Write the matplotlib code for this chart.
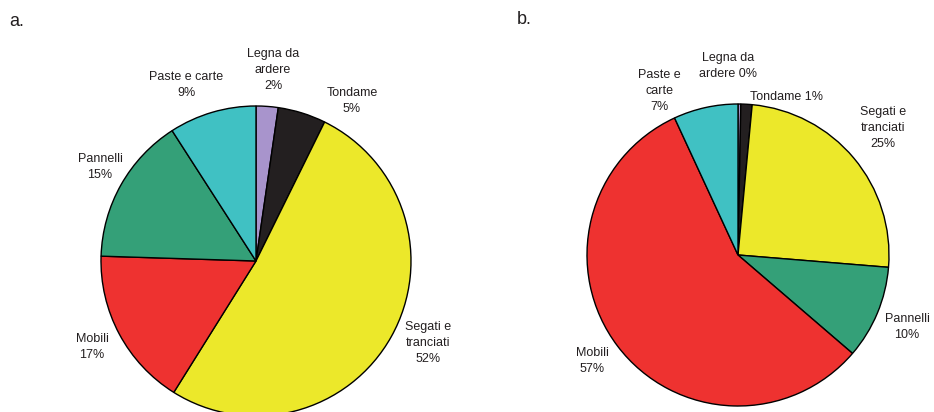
import matplotlib.pyplot as plt

plt.rcParams['font.family'] = ['Liberation Sans', 'DejaVu Sans']

# Categorie e quote percentuali
names_a = ["Legna da\nardere", "Tondame", "Segati e\ntranciati", "Mobili", "Pannelli", "Paste e carte"]
values_a = [2.3, 5.0, 51.6, 16.6, 15.4, 9.1]

names_b = ["Legna da\nardere ", "Tondame ", "Segati e\ntranciati", "Pannelli", "Mobili", "Paste e\ncarte"]
values_b = [0.3, 1.2, 24.8, 10, 56.8, 6.9]

colors = {
    "Legna": "#a894cc",
    "Tondame": "#231f20",
    "Segati": "#ece82a",
    "Mobili": "#ee3230",
    "Pannelli": "#34a078",
    "Paste": "#40c1c3",
}

# posizioni delle etichette (pixel, origine in alto a sinistra)
label_pos_a = [(273, 70), (352, 101), (428, 343), (92, 347), (100, 167), (186, 85)]
label_pos_b = [(728, 66), (786, 97), (883, 128), (907, 327), (592, 361), (659, 91)]

W, H = 934, 412
fig = plt.figure(figsize=(W / 100, H / 100), dpi=100)
ax = fig.add_axes([0, 0, 1, 1])


def color_for(name):
    return colors[name.split()[0]]


def draw_pie(names, values, center, radius, positions):
    ax.pie(values, colors=[color_for(n) for n in names],
           startangle=90, counterclock=False,
           center=(center[0], H - center[1]), radius=radius,
           wedgeprops=dict(edgecolor="black", linewidth=1.0))
    for name, v, (x, y) in zip(names, values, positions):
        if name.endswith(" "):
            txt = f"{name}{v:.0f}%"
        else:
            txt = f"{name}\n{v:.0f}%"
        ax.text(x, H - y, txt, ha="center", va="center", fontsize=9,
                color="#231f20", linespacing=1.45)


draw_pie(names_a, values_a, (256, 261), 155, label_pos_a)
draw_pie(names_b, values_b, (738, 255), 151, label_pos_b)

ax.set_xlim(0, W)
ax.set_ylim(0, H)
ax.set_aspect("equal")
ax.axis("off")

fig.text(9 / W, 1 - 21 / H, "a.", fontsize=13, va="center", color="#231f20")
fig.text(517 / W, 1 - 20 / H, "b.", fontsize=13, va="center", color="#231f20")

fig.savefig("out.png", dpi=100)
